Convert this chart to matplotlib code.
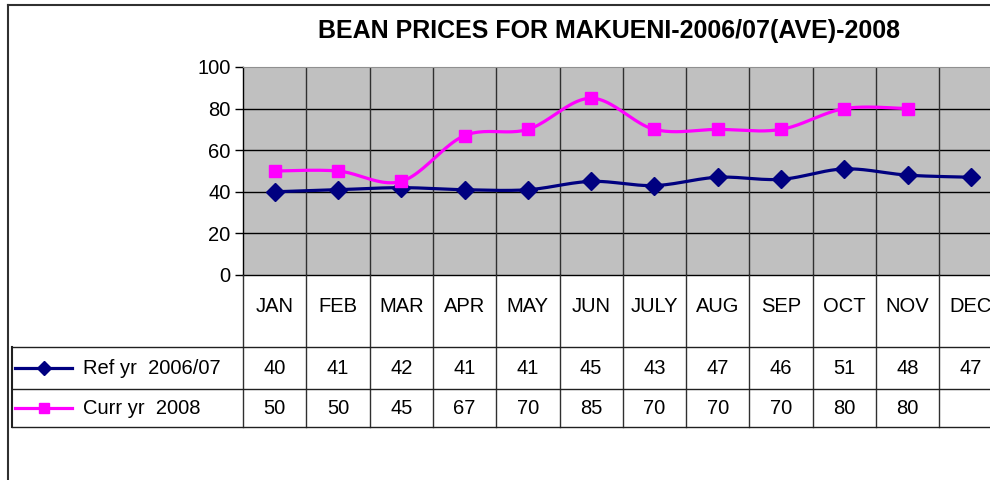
import numpy as np
import matplotlib
matplotlib.use('Agg')
import matplotlib.pyplot as plt
from matplotlib.lines import Line2D

plt.rcParams['font.family'] = ['Liberation Sans', 'DejaVu Sans']

months = ['JAN', 'FEB', 'MAR', 'APR', 'MAY', 'JUN', 'JULY', 'AUG', 'SEP', 'OCT', 'NOV', 'DEC']
ref_label = 'Ref yr  2006/07'
curr_label = 'Curr yr  2008'
ref_prices = [40, 41, 42, 41, 41, 45, 43, 47, 46, 51, 48, 47]
curr_prices = [50, 50, 45, 67, 70, 85, 70, 70, 70, 80, 80, None]
title = 'BEAN PRICES FOR MAKUENI-2006/07(AVE)-2008'

navy = '#000080'
magenta = '#FF00FF'
FS = 14.5


def smooth_curve(xs, ys, n=24):
    # Excel-like smoothed line (cardinal spline through the points)
    pts = [(x, y) for x, y in zip(xs, ys) if y is not None]
    px = np.array([p[0] for p in pts], float)
    py = np.array([p[1] for p in pts], float)
    out_x, out_y = [], []
    t = np.linspace(0, 1, n)
    for i in range(len(px) - 1):
        i0 = max(i - 1, 0)
        i3 = min(i + 2, len(px) - 1)
        c1x = px[i] + (px[i + 1] - px[i0]) / 6
        c1y = py[i] + (py[i + 1] - py[i0]) / 6
        c2x = px[i + 1] - (px[i3] - px[i]) / 6
        c2y = py[i + 1] - (py[i3] - py[i]) / 6
        bx = ((1 - t) ** 3 * px[i] + 3 * (1 - t) ** 2 * t * c1x
              + 3 * (1 - t) * t ** 2 * c2x + t ** 3 * px[i + 1])
        by = ((1 - t) ** 3 * py[i] + 3 * (1 - t) ** 2 * t * c1y
              + 3 * (1 - t) * t ** 2 * c2y + t ** 3 * py[i + 1])
        out_x.extend(bx)
        out_y.extend(by)
    return out_x, out_y


W, H = 990, 480
fig = plt.figure(figsize=(W / 100, H / 100), dpi=100)
fig.patch.set_facecolor('white')

cell = 63.3
left_px = 243
right_px = left_px + 12 * cell
top_px, zero_px = 67, 275

ax = fig.add_axes([left_px / W, (H - zero_px) / H, (right_px - left_px) / W, (zero_px - top_px) / H])
ax.set_facecolor('#C0C0C0')
x = np.arange(len(months))
ax.set_xlim(-0.5, len(months) - 0.5)
ax.set_ylim(0, 100)
ax.set_yticks([0, 20, 40, 60, 80, 100])
ax.tick_params(axis='y', direction='out', length=6, width=1, labelsize=FS, pad=3)
ax.set_xticks([])
for k in range(1, 5):
    ax.axhline(20 * k, color='black', lw=1, zorder=1)
for k in range(1, len(months)):
    ax.axvline(k - 0.5, color='#303030', lw=1, zorder=1)
ax.spines['top'].set_color('#909090')
ax.spines['right'].set_visible(False)
ax.spines['left'].set_linewidth(1)
ax.spines['bottom'].set_linewidth(1)

sx, sy = smooth_curve(x, ref_prices)
ax.plot(sx, sy, color=navy, lw=2.3, zorder=3, solid_capstyle='round')
ax.plot(x, ref_prices, 'D', color=navy, ms=9, zorder=4)
cx, cy = smooth_curve(x, curr_prices)
ax.plot(cx, cy, color=magenta, lw=2.3, zorder=3, solid_capstyle='round')
cvals = [np.nan if v is None else v for v in curr_prices]
ax.plot(x, cvals, 's', color=magenta, ms=8.5, zorder=4)

# data table below the plot
tab_left_px = 12
row_edges = [275, 347, 389, 427]
ax_t = fig.add_axes([tab_left_px / W, (H - row_edges[-1]) / H, (right_px - tab_left_px) / W,
                     (row_edges[-1] - row_edges[0]) / H])
x_left = -0.5 - (left_px - tab_left_px) / cell
ax_t.set_xlim(x_left, len(months) - 0.5)
ax_t.set_ylim(row_edges[-1], row_edges[0])
ax_t.axis('off')

for k in range(len(months) + 1):
    ax_t.plot([k - 0.5, k - 0.5], [row_edges[0], row_edges[-1]], color='#303030', lw=1, clip_on=False)
for yy in row_edges[1:]:
    ax_t.plot([x_left, len(months) - 0.5], [yy, yy], color='#202020', lw=1, clip_on=False)
ax_t.plot([x_left, x_left], [row_edges[1], row_edges[-1]], color='#202020', lw=1.5, clip_on=False)

for i, m in enumerate(months):
    ax_t.text(i, 307, m, ha='center', va='center', fontsize=FS)

rows = [(ref_label, ref_prices, navy, 'D', 7), (curr_label, curr_prices, magenta, 's', 7)]
row_centers = [368, 408]
for (label, vals, col, mk, ms), yc in zip(rows, row_centers):
    for i, v in enumerate(vals):
        if v is not None:
            ax_t.text(i, yc, str(v), ha='center', va='center', fontsize=FS)
    kx0 = x_left + 3 / cell
    kx1 = x_left + 60 / cell
    ax_t.plot([kx0, kx1], [yc, yc], color=col, lw=2.3, clip_on=False)
    ax_t.plot([(kx0 + kx1) / 2], [yc], mk, color=col, ms=ms, clip_on=False)
    ax_t.text(x_left + 71 / cell, yc, label, ha='left', va='center', fontsize=FS)

fig.text(609 / W, (H - 31) / H, title, ha='center', va='center', fontsize=18, fontweight='bold')

# chart area border
fig.add_artist(Line2D([8 / W, 8 / W], [0, (H - 5) / H], color='#303030', lw=1.5))
fig.add_artist(Line2D([8 / W, 1], [(H - 5) / H, (H - 5) / H], color='#303030', lw=1.5))

fig.savefig('out.png', dpi=100)
